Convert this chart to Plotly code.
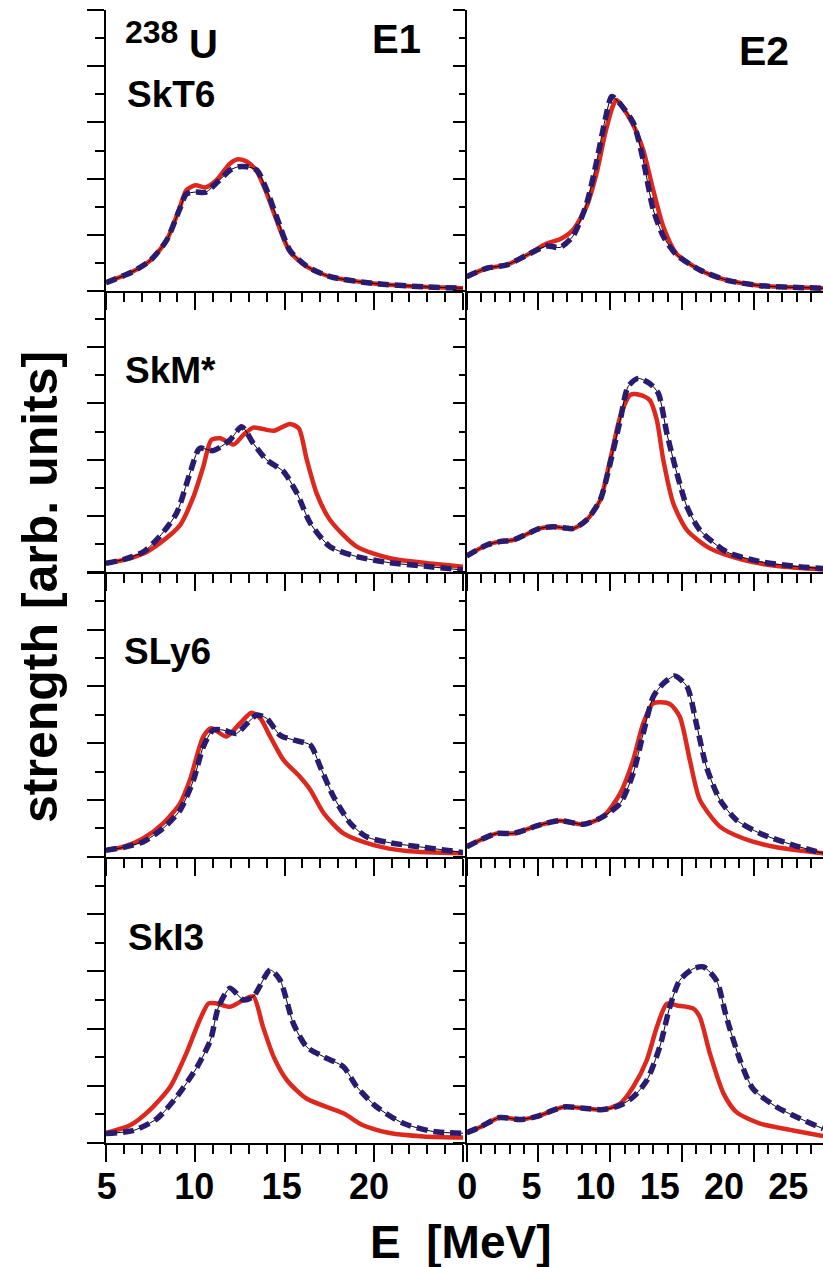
import plotly.graph_objects as go

# ---- strength functions (arb. units) for 238U, four Skyrme forces ----
forces = ["SkT6", "SkM*", "SLy6", "SkI3"]

# E1, SkT6
e1_skt6_E_red = [5, 6.5, 7.5, 8.4, 9.15, 9.5, 10.0, 10.6, 11.2, 11.95, 12.4, 12.9, 13.45, 14.0, 14.55, 15.3, 16.25, 17.55, 20.0, 22.8, 25]
e1_skt6_red = [0.30, 0.69, 1.10, 1.81, 3.0, 3.59, 3.76, 3.69, 3.95, 4.54, 4.69, 4.60, 4.25, 3.48, 2.53, 1.40, 0.87, 0.51, 0.27, 0.15, 0.10]
e1_skt6_E_blue = e1_skt6_E_red
e1_skt6_blue = [0.30, 0.69, 1.10, 1.81, 2.95, 3.45, 3.52, 3.52, 3.85, 4.30, 4.42, 4.42, 4.30, 3.60, 2.65, 1.45, 0.88, 0.51, 0.27, 0.15, 0.10]

# E2, SkT6
e2_skt6_E_red = [0, 1.4, 2.8, 4.2, 5.6, 6.5, 7.4, 8.35, 9.05, 9.65, 10.2, 10.45, 11.6, 12.3, 13.0, 13.7, 14.6, 16.25, 18.1, 20.45, 22.75, 24.83]
e2_skt6_red = [0.51, 0.81, 0.93, 1.28, 1.70, 1.84, 2.17, 3.0, 4.19, 5.61, 6.6, 6.8, 5.91, 5.02, 3.59, 2.29, 1.34, 0.75, 0.39, 0.19, 0.13, 0.10]
e2_skt6_E_blue = [0, 1.4, 2.8, 4.2, 5.6, 6.5, 7.4, 8.35, 9.05, 9.65, 10.1, 10.45, 11.6, 12.3, 13.0, 13.7, 14.6, 16.25, 18.1, 20.45, 22.75, 24.83]
e2_skt6_blue = [0.51, 0.81, 0.93, 1.28, 1.60, 1.55, 1.95, 3.1, 4.6, 6.1, 6.92, 6.8, 6.0, 4.66, 2.9, 1.95, 1.3, 0.75, 0.39, 0.19, 0.13, 0.10]

# E1, SkM*
e1_skm_E_red = [5, 6.0, 7.1, 8.0, 9.15, 9.9, 10.45, 10.9, 11.4, 12.15, 12.7, 13.25, 14.4, 15.3, 15.8, 16.25, 16.8, 17.55, 19.05, 20.9, 22.8, 25]
e1_skm_red = [0.31, 0.43, 0.66, 1.02, 1.67, 2.68, 3.75, 4.70, 4.76, 4.54, 4.88, 5.14, 5.03, 5.27, 5.11, 3.99, 2.80, 1.85, 0.90, 0.49, 0.33, 0.19]
e1_skm_E_blue = [5, 6.0, 7.1, 8.0, 8.95, 9.7, 10.25, 11.0, 11.95, 12.6, 13.25, 14.0, 14.95, 15.7, 16.45, 17.55, 19.05, 20.9, 22.8, 25]
e1_skm_blue = [0.31, 0.45, 0.72, 1.26, 2.09, 3.51, 4.40, 4.32, 4.70, 5.17, 4.58, 3.99, 3.57, 2.80, 1.73, 0.90, 0.55, 0.33, 0.21, 0.07]

# E2, SkM*
e2_skm_E_red = [0, 1.4, 2.3, 3.25, 5.1, 6.05, 7.45, 8.35, 9.3, 10.0, 10.7, 11.4, 12.1, 12.75, 13.25, 13.7, 14.4, 15.35, 16.95, 19.25, 21.6, 24.83]
e2_skm_red = [0.57, 0.96, 1.08, 1.14, 1.55, 1.61, 1.55, 1.85, 2.56, 3.99, 5.53, 6.30, 6.30, 6.12, 5.41, 3.99, 2.44, 1.49, 0.84, 0.43, 0.21, 0.09]
e2_skm_E_blue = [0, 1.4, 2.3, 3.25, 5.1, 6.05, 7.45, 8.35, 9.3, 10.0, 10.7, 11.25, 11.95, 12.75, 13.35, 13.95, 14.65, 15.35, 16.25, 18.1, 20.45, 22.75, 24.83]
e2_skm_blue = [0.57, 0.96, 1.08, 1.14, 1.55, 1.61, 1.55, 1.85, 2.56, 3.87, 5.41, 6.60, 6.89, 6.71, 6.36, 4.93, 3.51, 2.32, 1.49, 0.72, 0.37, 0.21, 0.12]

# E1, SLy6
e1_sly6_E_red = [5, 6.0, 7.1, 8.2, 9.15, 9.7, 10.45, 10.9, 11.75, 12.5, 13.15, 13.65, 14.2, 14.95, 15.85, 16.45, 17.2, 18.3, 20.0, 21.85, 25]
e1_sly6_red = [0.23, 0.35, 0.65, 1.17, 1.88, 2.70, 4.23, 4.52, 4.23, 4.69, 5.07, 4.87, 4.23, 3.40, 2.82, 2.35, 1.53, 0.82, 0.41, 0.20, 0.12]
e1_sly6_E_blue = [5, 6.0, 7.1, 8.2, 9.15, 9.9, 10.45, 11.0, 11.55, 12.3, 12.9, 13.45, 14.0, 14.75, 15.5, 16.45, 17.0, 17.75, 18.7, 19.6, 20.9, 22.8, 25]
e1_sly6_blue = [0.23, 0.33, 0.53, 1.0, 1.64, 2.70, 3.87, 4.46, 4.46, 4.34, 4.69, 4.99, 4.87, 4.28, 4.11, 3.93, 3.17, 2.11, 1.17, 0.70, 0.49, 0.33, 0.15]

# E2, SLy6
e2_sly6_E_red = [0, 0.95, 2.1, 3.25, 5.1, 6.5, 8.15, 9.5, 10.7, 11.6, 12.3, 13.0, 14.15, 14.85, 15.55, 16.25, 17.65, 19.25, 21.6, 24.83]
e2_sly6_red = [0.35, 0.59, 0.82, 0.82, 1.12, 1.27, 1.14, 1.41, 2.23, 3.40, 4.69, 5.40, 5.38, 4.93, 3.40, 2.0, 1.06, 0.65, 0.33, 0.12]
e2_sly6_E_blue = [0, 0.95, 2.1, 3.25, 5.1, 6.5, 8.15, 9.5, 10.7, 11.6, 12.3, 13.0, 13.7, 14.5, 15.35, 16.05, 16.7, 17.65, 18.8, 20.45, 22.75, 24.83]
e2_sly6_blue = [0.35, 0.59, 0.82, 0.82, 1.12, 1.27, 1.14, 1.41, 1.88, 2.93, 4.34, 5.63, 6.10, 6.36, 5.99, 4.58, 3.17, 2.0, 1.29, 0.82, 0.41, 0.12]

# E1, SkI3
e1_ski3_E_red = [5, 6.35, 7.45, 8.6, 9.5, 10.25, 10.75, 11.2, 11.95, 12.7, 13.25, 13.8, 14.4, 15.15, 16.25, 18.3, 19.4, 20.9, 22.8, 25]
e1_ski3_red = [0.34, 0.61, 1.14, 1.96, 3.13, 4.30, 4.88, 4.88, 4.76, 5.0, 5.13, 4.05, 3.0, 2.18, 1.54, 1.03, 0.61, 0.34, 0.22, 0.18]
e1_ski3_E_blue = [5, 6.55, 7.85, 8.95, 10.1, 10.85, 11.3, 11.95, 12.7, 13.25, 14.2, 14.75, 15.5, 16.25, 17.2, 18.3, 19.05, 20.15, 21.65, 23.35, 25]
e1_ski3_blue = [0.32, 0.43, 0.84, 1.60, 2.65, 3.59, 4.75, 5.41, 5.0, 5.12, 6.05, 5.70, 4.17, 3.35, 3.01, 2.66, 1.96, 1.26, 0.68, 0.39, 0.33]

# E2, SkI3
e2_ski3_E_red = [0, 0.95, 2.3, 3.7, 4.9, 6.75, 8.15, 9.5, 10.7, 11.6, 12.55, 13.25, 13.95, 14.65, 15.8, 16.25, 16.95, 17.9, 18.8, 20.45, 22.75, 24.83]
e2_ski3_red = [0.35, 0.55, 0.88, 0.81, 0.92, 1.25, 1.21, 1.16, 1.37, 1.95, 2.89, 4.05, 4.87, 4.81, 4.70, 4.40, 3.12, 1.72, 1.07, 0.67, 0.43, 0.23]
e2_ski3_E_blue = [0, 0.95, 2.3, 3.7, 4.9, 6.75, 8.15, 9.5, 10.7, 11.6, 12.55, 13.45, 14.15, 14.85, 15.8, 16.5, 17.4, 18.1, 19.05, 19.95, 21.6, 23.25, 24.83]
e2_ski3_blue = [0.35, 0.55, 0.88, 0.81, 0.92, 1.25, 1.21, 1.16, 1.31, 1.60, 2.18, 3.35, 4.75, 5.69, 6.10, 6.16, 5.69, 4.40, 2.89, 1.89, 1.25, 0.84, 0.49]

panels = [
    # (row, col, E_red, red, E_blue, blue)
    (0, 0, e1_skt6_E_red, e1_skt6_red, e1_skt6_E_blue, e1_skt6_blue),
    (0, 1, e2_skt6_E_red, e2_skt6_red, e2_skt6_E_blue, e2_skt6_blue),
    (1, 0, e1_skm_E_red, e1_skm_red, e1_skm_E_blue, e1_skm_blue),
    (1, 1, e2_skm_E_red, e2_skm_red, e2_skm_E_blue, e2_skm_blue),
    (2, 0, e1_sly6_E_red, e1_sly6_red, e1_sly6_E_blue, e1_sly6_blue),
    (2, 1, e2_sly6_E_red, e2_sly6_red, e2_sly6_E_blue, e2_sly6_blue),
    (3, 0, e1_ski3_E_red, e1_ski3_red, e1_ski3_E_blue, e1_ski3_blue),
    (3, 1, e2_ski3_E_red, e2_ski3_red, e2_ski3_E_blue, e2_ski3_blue),
]

left_ticklabels = [5, 10, 15, 20]
right_ticklabels = [0, 5, 10, 15, 20, 25]

# ---- layout geometry (pixels) ----
W, H = 823, 1267
RED = "#dd281e"
BLUE = "#2a1a70"
FONT = "Liberation Sans, Arial, Helvetica, sans-serif"

col_px = [(106, 463), (466.7, 823)]
row_px = [(10, 291), (291, 572), (572.7, 856.7), (857.3, 1142.7)]
x_range = [[5, 25], [0, 24.83]]


def px(x):
    return x / W


def py(y):
    return 1 - y / H


fig = go.Figure()
layout = dict(
    width=W, height=H,
    margin=dict(l=0, r=0, t=0, b=0, autoexpand=False),
    paper_bgcolor="white", plot_bgcolor="rgba(0,0,0,0)",
    showlegend=False,
    font=dict(family=FONT, color="black"),
)

for (r, c, er, vr, eb, vb) in panels:
    idx = r * 2 + c + 1
    xs = "x" if idx == 1 else f"x{idx}"
    ys = "y" if idx == 1 else f"y{idx}"
    fig.add_trace(go.Scatter(x=er, y=vr, xaxis=xs, yaxis=ys, mode="lines",
                             line=dict(color=RED, width=4.5, shape="spline", smoothing=0.7)))
    fig.add_trace(go.Scatter(x=eb, y=vb, xaxis=xs, yaxis=ys, mode="lines",
                             line=dict(color="black", width=1, shape="spline", smoothing=0.7)))
    fig.add_trace(go.Scatter(x=eb, y=vb, xaxis=xs, yaxis=ys, mode="lines",
                             line=dict(color=BLUE, width=5.5, dash="11px,6px", shape="spline", smoothing=0.7)))

    xd = [px(col_px[c][0]), px(col_px[c][1])]
    yd = [py(row_px[r][1]), py(row_px[r][0])]
    layout["xaxis" if idx == 1 else f"xaxis{idx}"] = dict(
        domain=xd, anchor=ys, range=x_range[c], showgrid=False, zeroline=False, automargin=False,
        showline=True, linecolor="black", linewidth=2,
        ticks="outside", ticklen=17, tickwidth=1.5, tickcolor="black",
        tick0=0, dtick=5, showticklabels=False,
        minor=dict(ticks="outside", ticklen=9, tickwidth=1.5, tickcolor="black", dtick=1),
    )
    layout["yaxis" if idx == 1 else f"yaxis{idx}"] = dict(
        domain=yd, anchor=xs, range=[0, 10], showgrid=False, zeroline=False, automargin=False,
        showline=True, linecolor="black", linewidth=1.5,
        ticks="outside", ticklen=17 if c == 0 else 12, tickwidth=1.5, tickcolor="black",
        tick0=0, dtick=2, showticklabels=False,
        minor=dict(ticks="outside", ticklen=9 if c == 0 else 6, tickwidth=1.5, tickcolor="black", dtick=1),
    )
    if c == 0:
        # frame on the right of the E1 panels, ticks pointing inwards
        layout[f"yaxis{8 + r + 1}"] = dict(
            overlaying=ys, anchor=xs, side="right", range=[0, 10], automargin=False,
            showgrid=False, zeroline=False, showline=True, linecolor="black", linewidth=1.5,
            ticks="inside", ticklen=14, tickwidth=1.5, tickcolor="black",
            tick0=0, dtick=2, showticklabels=False,
            minor=dict(ticks="inside", ticklen=6, tickwidth=1.5, tickcolor="black", dtick=1),
        )

# energy tick labels under the bottom row, on their own label axes
tickfont = dict(family=FONT, size=36, color="black", weight="bold")
for name, over, anch, rng, vals in [("xaxis9", "x7", "y7", [4.95, 25.38], left_ticklabels),
                                    ("xaxis10", "x8", "y8", [-0.04, 27.71], right_ticklabels)]:
    layout[name] = dict(
        overlaying=over, anchor=anch, side="bottom", range=rng, automargin=False,
        showgrid=False, zeroline=False, showline=False,
        ticks="outside", ticklen=12, tickcolor="rgba(0,0,0,0)",
        tickvals=vals, ticktext=[str(v) for v in vals], tickfont=tickfont,
    )
    # transparent carrier trace so the label axis is laid out
    fig.add_trace(go.Scatter(x=vals, y=[0] * len(vals), xaxis=name.replace("axis", ""), yaxis=anch,
                             mode="lines", line=dict(width=0, color="rgba(0,0,0,0)"),
                             hoverinfo="skip"))

annotations = []


def label(text, x, y, size, **kw):
    annotations.append(dict(text=text, x=px(x), y=py(y), xref="paper", yref="paper",
                            showarrow=False, xanchor="center", yanchor="middle",
                            font=dict(family=FONT, size=size, color="black", weight="bold"), **kw))


label("238", 151, 32, 32)
label("U", 203, 44, 40)
label("E1", 396, 39, 40)
label("E2", 764, 51, 41)
label(forces[0], 171, 94, 37)
label(forces[1], 170, 370, 37)
label(forces[2], 167, 651, 37)
label(forces[3], 166, 937, 37)
label("strength [arb. units]", 40, 587, 50, textangle=-90)
label("E\u00a0\u00a0[MeV]", 460, 1242, 46)

layout["annotations"] = annotations
fig.update_layout(**layout)
fig.write_html("out.html")
